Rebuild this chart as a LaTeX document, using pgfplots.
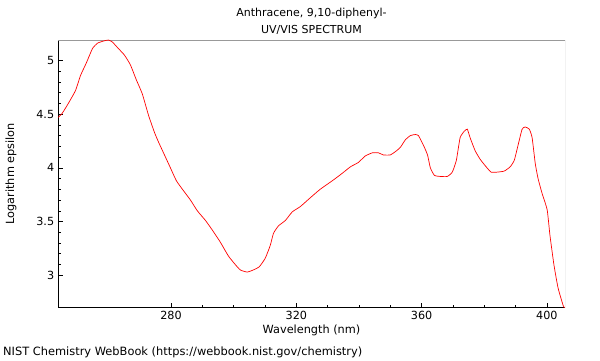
\documentclass[border=0pt]{standalone}
\usepackage{pgfplots}
\pgfplotsset{compat=1.18}
\usepackage{fontspec}
\setmainfont{DejaVu Sans}
\begin{document}
\fontsize{11bp}{13bp}\selectfont
\begin{tikzpicture}[x=1bp,y=1bp]
\useasboundingbox (0,0) rectangle (600,360);
\begin{axis}[
  at={(58bp,52.5bp)}, anchor=south west,
  scale only axis, width=507bp, height=267.5bp,
  xmin=243.9, xmax=405.8, ymin=2.70, ymax=5.19,
  axis x line=bottom, axis y line=left,
  axis line style={-, black, line width=0.8bp},
  tick align=inside,
  xtick={280,320,360,400}, minor x tick num=3,
  ytick={3,3.5,4,4.5,5}, minor y tick num=4,
  major tick length=5bp, minor tick length=3bp,
  tick style={black, line width=0.6bp},
  /pgf/number format/assume math mode=true,
  ticklabel style={font=\fontsize{11.2bp}{13bp}\selectfont},
  yticklabel style={/pgf/number format/fixed},
  xlabel={Wavelength (nm)}, ylabel={Logarithm epsilon},
  label style={font=\fontsize{11.3bp}{13bp}\selectfont},
  xlabel style={at={(axis description cs:0.5,0)}, anchor=north, yshift=-14bp},
  ylabel style={at={(axis description cs:-0.0927,0.5)}, anchor=center},
  clip=true,
]
\draw[gray!80, line width=0.8bp] (rel axis cs:0,1) -- (rel axis cs:1,1) -- (rel axis cs:1,0);
\addplot[red, line width=0.7bp, smooth, tension=0.3] coordinates {
(244,4.47) (245.3,4.51) (247.2,4.60) (249.5,4.72) (251.1,4.86) (253,4.98) (254.9,5.11)
(256.5,5.16) (258.4,5.18) (260,5.19) (261.3,5.17) (263.2,5.11) (265.1,5.05) (267,4.96)
(268.9,4.82) (270.8,4.69) (272.8,4.49) (274.7,4.33) (276,4.24) (277.9,4.12) (279.8,4.0)
(281.7,3.88) (283.9,3.79) (286.2,3.70) (288.4,3.60) (291,3.51) (293.2,3.42) (295.7,3.31)
(298.3,3.18) (300.5,3.10) (302.1,3.05) (304.3,3.03) (306.3,3.05) (308.2,3.08) (310.1,3.16)
(311.7,3.28) (312.7,3.39) (314.3,3.46) (316.5,3.51) (318.7,3.59) (321.3,3.64) (324.4,3.72)
(327.6,3.80) (331.5,3.88) (334.7,3.95) (337.3,4.01) (339.8,4.05) (342,4.11) (344.3,4.14)
(346.2,4.14) (347.8,4.12) (350,4.12) (351.6,4.15) (353.2,4.19) (354.8,4.26) (356.4,4.30)
(358,4.31) (359,4.30) (360.6,4.21) (361.9,4.12) (362.8,4.00) (364.1,3.93) (366,3.92)
(368.2,3.92) (369.8,3.96) (371.1,4.07) (372.3,4.28) (373.6,4.34) (374.6,4.36) (375.5,4.28)
(377.1,4.16) (378.7,4.08) (380.6,4.01) (382.2,3.96) (384.1,3.96) (386.4,3.97) (388.3,4.01)
(389.6,4.07) (390.8,4.21) (392.1,4.36) (393.1,4.38) (394.4,4.36) (395.3,4.28) (396.3,4.04)
(397.2,3.90) (398.5,3.76) (400.1,3.61) (401,3.37) (402.3,3.09) (403.6,2.88) (405.2,2.72)
(405.8,2.69)
};
\end{axis}
\node[anchor=center] at (311.5,347) {Anthracene, 9,10-diphenyl-};
\node[anchor=center] at (311.5,330) {UV/VIS SPECTRUM};
\node[anchor=west, inner sep=0pt, font=\fontsize{11.4bp}{13bp}\selectfont] at (3,7.5) {NIST Chemistry WebBook (https://webbook.nist.gov/chemistry)};
\end{tikzpicture}
\end{document}
